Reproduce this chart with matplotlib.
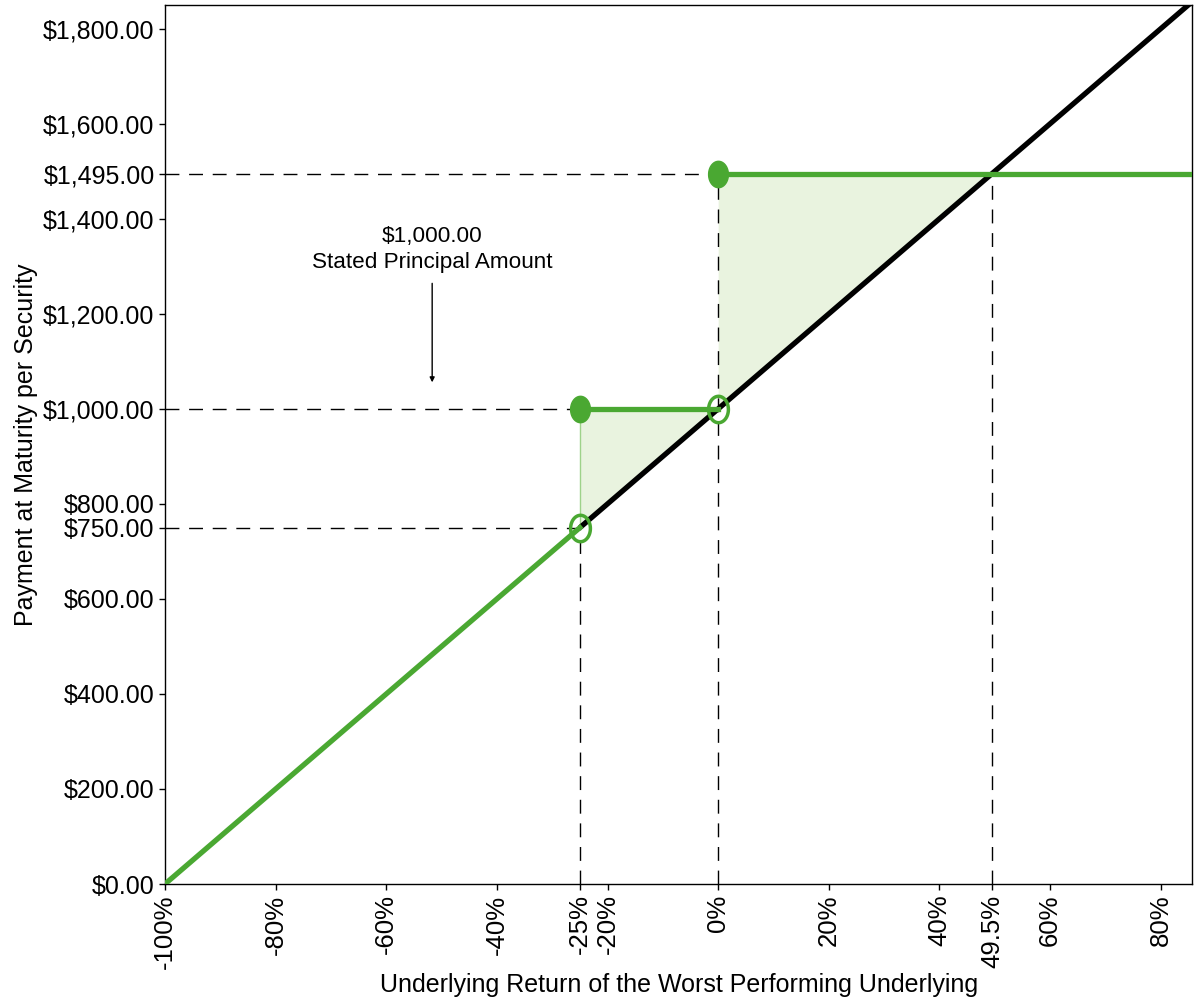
import numpy as np
import matplotlib
matplotlib.use("Agg")
import matplotlib.pyplot as plt
from matplotlib.path import Path
from matplotlib.ticker import FuncFormatter

plt.rcParams['font.family'] = ['Liberation Sans', 'DejaVu Sans']

# ---- data ----
x_ticks = [-100, -80, -60, -40, -25, -20, 0, 20, 40, 49.5, 60, 80]
x_tick_labels = ['-100%', '-80%', '-60%', '-40%', '-25%', '-20%', '0%', '20%', '40%', '49.5%', '60%', '80%']
y_ticks = [0, 200, 400, 600, 750, 800, 1000, 1200, 1400, 1495, 1600, 1800]

underlying_x = [-25, 90]          # black "underlying" line endpoints
underlying_y = [750, 1900]
loss_x = [-100, -25]              # payoff below buffer
loss_y = [0, 750]
mid_x = [-25, 0]                  # principal payoff
mid_y = [1000, 1000]
top_x = [0, 90]                   # fixed upside payment
top_y = [1495, 1495]

fill_x = [-25, 0, 0, 49.5]
fill_upper = [1000, 1000, 1495, 1495]
fill_lower = [750, 1000, 1000, 1495]

filled_pts_x = [-25, 0]
filled_pts_y = [1000, 1495]
open_pts_x = [-25, 0]
open_pts_y = [750, 1000]

# reference dashed lines: (x_start, x_end, y) and (x, y_start, y_end)
h_dashes = [(-100, -25, 750), (-100, -25, 1000), (-100, 0, 1495)]
v_dashes = [(-25, 0, 750), (0, 0, 1495), (49.5, 0, 1495)]

x_min, x_max = -100, 85.7
y_min, y_max = 0, 1850

green = '#4aa832'
light_green = '#e9f3df'

fig = plt.figure(figsize=(12, 10), dpi=100)
ax = fig.add_axes([0.1375, 0.116, 0.856, 0.879])

t = np.linspace(0, 2 * np.pi, 60)
ellipse = Path(np.column_stack([0.75 * np.cos(t), np.sin(t)]), closed=True)

ax.fill_between(fill_x, fill_lower, fill_upper, color=light_green, lw=0, zorder=1)
ax.plot([-25, -25], [750, 1000], color='#9ed28a', lw=1, zorder=2)

for xs, xe, y in h_dashes:
    ax.plot([xs, xe], [y, y], color='black', lw=1, dashes=(10, 7), zorder=2)
for x, ys, ye in v_dashes:
    ax.plot([x, x], [ys, ye], color='black', lw=1, dashes=(10, 7), zorder=2)

ax.plot(underlying_x, underlying_y, color='black', lw=3.8, zorder=3, solid_capstyle='butt')
ax.plot(loss_x, loss_y, color=green, lw=3.8, zorder=4)
ax.plot(mid_x, mid_y, color=green, lw=3.8, zorder=4)
ax.plot(top_x, top_y, color=green, lw=3.8, zorder=4)

ax.plot(filled_pts_x, filled_pts_y, ls='none', marker=ellipse, ms=19,
        color=green, mec=green, zorder=5)
ax.plot(open_pts_x, open_pts_y, ls='none', marker=ellipse, ms=19,
        mfc='none', mec=green, mew=2.5, zorder=5)

ax.annotate('', xy=(-51.7, 1050), xytext=(-51.7, 1270),
            arrowprops=dict(arrowstyle='-|>', color='black', lw=1, mutation_scale=7))
ax.text(-51.7, 1336, '$1,000.00\nStated Principal Amount', ha='center', va='center',
        fontsize=16.2, linespacing=1.3)

ax.set_xlim(x_min, x_max)
ax.set_ylim(y_min, y_max)
ax.set_xticks(x_ticks)
ax.set_xticklabels(x_tick_labels, rotation=90, fontsize=18.5)
ax.set_yticks(y_ticks)
ax.yaxis.set_major_formatter(FuncFormatter(lambda v, p: '${:,.2f}'.format(v)))
ax.tick_params(axis='y', labelsize=18, length=4, width=1)
ax.tick_params(axis='x', length=4, width=1)
for s in ax.spines.values():
    s.set_linewidth(1)

ax.set_xlabel('Underlying Return of the Worst Performing Underlying', fontsize=18, labelpad=3)
ax.set_ylabel('Payment at Maturity per Security', fontsize=18, labelpad=4)

fig.savefig('out.png', dpi=100)
